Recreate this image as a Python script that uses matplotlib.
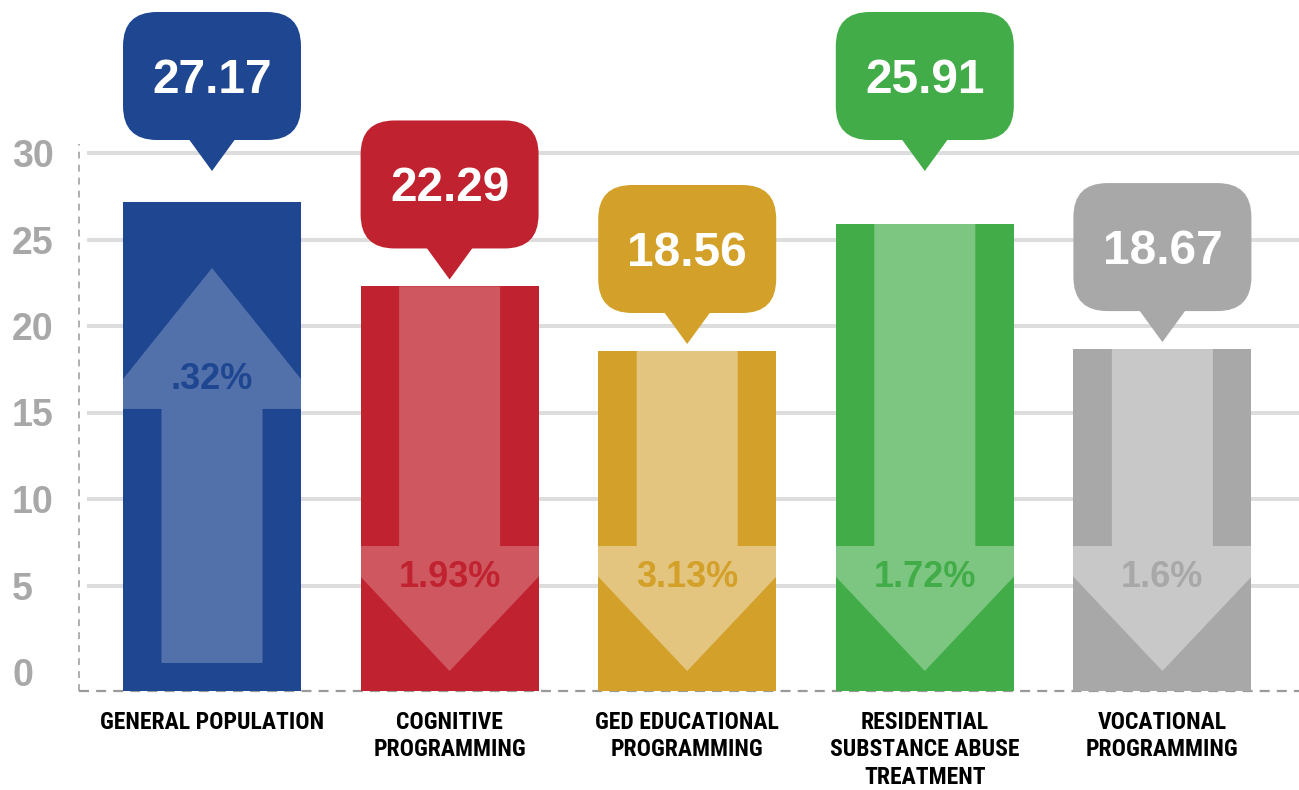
import matplotlib
matplotlib.use("Agg")
from matplotlib import pyplot as plt
from matplotlib.patches import Polygon, FancyBboxPatch
from matplotlib.transforms import ScaledTranslation
import numpy as np

# Data
categories = [
    "GENERAL POPULATION",
    "COGNITIVE\nPROGRAMMING",
    "GED EDUCATIONAL\nPROGRAMMING",
    "RESIDENTIAL\nSUBSTANCE ABUSE\nTREATMENT",
    "VOCATIONAL\nPROGRAMMING",
]
values = [27.17, 22.29, 18.56, 25.91, 18.67]
changes = [".32%", "1.93%", "3.13%", "1.72%", "1.6%"]
going_up = [True, False, False, False, False]
y_ticks = [0, 5, 10, 15, 20, 25, 30]

bar_colors = ["#1f4690", "#c0232f", "#d3a12a", "#42ad48", "#a8a8a8"]
arrow_colors = ["#5270aa", "#cf5760", "#e3c57f", "#7dc682", "#c8c8c8"]

# Layout (pixels of the 1299x790 picture)
W_PX, H_PX = 1299, 790
AX_LEFT_PX = 79
ZERO_PX = 672      # height of value 0, from the top
UNIT_PX = 17.3     # pixels per unit
FIRST_PX, STEP_PX = 212, 237.6
BAR_PX = 178
DPI = 100

base = (ZERO_PX - 691) / UNIT_PX
top_tip = (ZERO_PX - 171) / UNIT_PX

label_font = ["Liberation Sans", "DejaVu Sans"]
narrow_font = ["Roboto Condensed", "Liberation Sans", "DejaVu Sans"]

fig = plt.figure(figsize=(W_PX / DPI, H_PX / DPI), dpi=DPI)
ax = fig.add_axes([AX_LEFT_PX / W_PX, 0, 1 - AX_LEFT_PX / W_PX, 1])
ax.set_xlim((AX_LEFT_PX - FIRST_PX) / STEP_PX, (W_PX - FIRST_PX) / STEP_PX)
ax.set_ylim((ZERO_PX - H_PX) / UNIT_PX, ZERO_PX / UNIT_PX)
for s in ax.spines.values():
    s.set_visible(False)

x = np.arange(len(values))
width = BAR_PX / STEP_PX

# Grid lines and dashed axes
for t in y_ticks[1:]:
    ax.axhline(t, xmin=0.008, xmax=1, color="#dddddd", lw=2.9, zorder=0)
x0 = ax.get_xlim()[0]
ax.plot([x0, x0], [base, 30.5], color="#9a9a9a", lw=1.1,
        ls=(0, (4.5, 4)), clip_on=False, zorder=1)
ax.plot(ax.get_xlim(), [base, base], color="#9a9a9a", lw=1.6,
        ls=(0, (4.5, 3.2)), clip_on=False, zorder=1)

ax.set_yticks(y_ticks)
ax.set_yticklabels([str(t) for t in y_ticks], color="#a8a8a8", fontsize=27,
                   fontweight="bold", family=label_font, ha="left")
ax.tick_params(axis="y", length=0, pad=(AX_LEFT_PX - 12) * 0.72)
ax.set_xticks([])

bars = ax.bar(x, np.array(values) - base, bottom=base, width=width,
              color=bar_colors, zorder=2)

px = 1.0 / DPI  # one pixel in inches
for i, v in enumerate(values):
    bar = bars[i]
    h = (v - base) * UNIT_PX  # bar height in pixels
    trans = fig.dpi_scale_trans + ScaledTranslation(i, base, ax.transData)
    s = 50.5
    if going_up[i]:
        tip = h - 66
        hb = tip - 141
        W = 113
        pts = [(-s, 28), (s, 28), (s, hb), (W, hb), (0, tip), (-W, hb), (-s, hb)]
        ty = hb + 33
    else:
        tip = 20
        hb = tip + 125
        W = 118
        pts = [(-s, h), (s, h), (s, hb), (W, hb), (0, tip), (-W, hb), (-s, hb)]
        ty = hb - 28
    arrow = Polygon([(a * px, b * px) for a, b in pts], closed=True,
                    transform=trans, facecolor=arrow_colors[i],
                    edgecolor="none", zorder=3)
    ax.add_patch(arrow)
    arrow.set_clip_path(bar)
    # percent change text (baseline placed so the digits are centred)
    ax.text(0, (ty - 13) * px, changes[i], transform=trans, ha="center",
            va="baseline", fontsize=26, fontweight="bold",
            color=bar_colors[i], family=label_font, zorder=4)

    # callout above the bar
    tip_v = top_tip if v > 24 else v + 0.4
    ctrans = fig.dpi_scale_trans + ScaledTranslation(i, tip_v, ax.transData)
    half = BAR_PX / 2 * px
    box = FancyBboxPatch((-half, 31 * px), BAR_PX * px, 128 * px,
                         boxstyle="round,pad=0,rounding_size=0.34",
                         transform=ctrans, facecolor=bar_colors[i],
                         edgecolor="none", zorder=5, clip_on=False)
    ax.add_patch(box)
    tri = Polygon([(-24 * px, 33 * px), (24 * px, 33 * px), (0, 0)],
                  closed=True, transform=ctrans, facecolor=bar_colors[i],
                  edgecolor="none", zorder=5, clip_on=False)
    ax.add_patch(tri)
    ax.text(0, (31 + 64 - 17) * px, f"{v:.2f}", transform=ctrans,
            ha="center", va="baseline", fontsize=34.5, fontweight="bold",
            color="white", family=label_font, zorder=6)

    # category label
    ax.text(i, (ZERO_PX - 711) / UNIT_PX, categories[i], ha="center", va="top",
            fontsize=17, fontweight="bold", family=narrow_font,
            linespacing=1.25, color="black", zorder=6)

fig.savefig("out.png", dpi=DPI)
